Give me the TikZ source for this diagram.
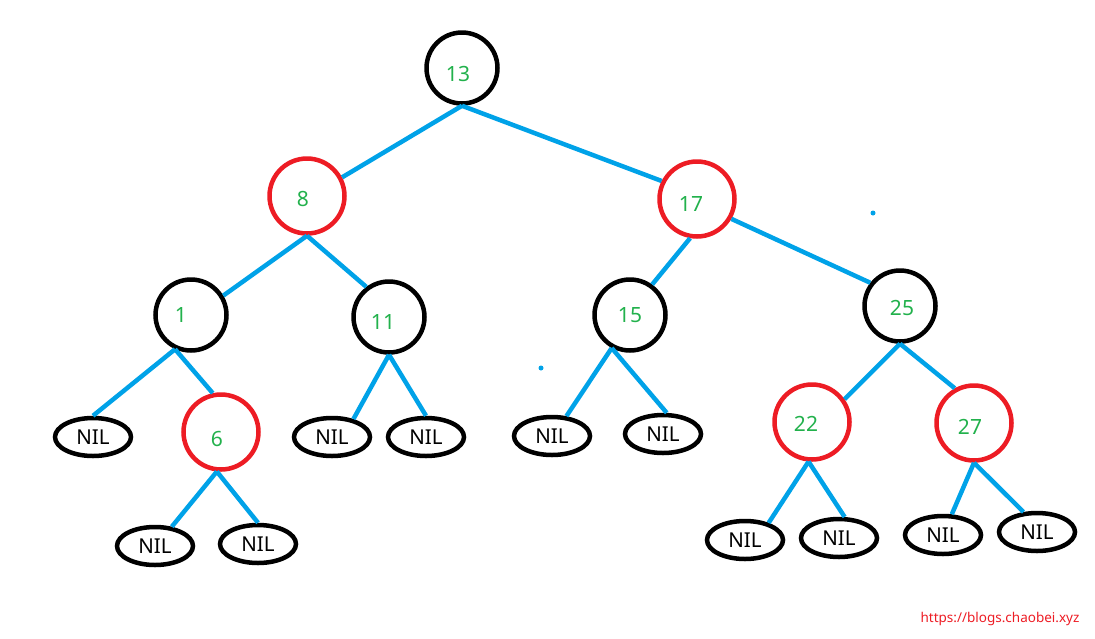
\documentclass[tikz,border=0pt]{standalone}
\usepackage{fontspec}
\setmainfont{Noto Sans}
\usetikzlibrary{shapes.geometric}
\definecolor{edgeblue}{RGB}{0,162,232}
\definecolor{nodered}{RGB}{237,28,36}
\definecolor{numgreen}{RGB}{34,177,76}
\begin{document}
\begin{tikzpicture}[x=1pt,y=-1pt,
  blk/.style={circle,draw=black,line width=4.5pt,minimum size=71pt,inner sep=0pt},
  rd/.style={circle,draw=nodered,line width=4.5pt,minimum size=75pt,inner sep=0pt},
  nil/.style={ellipse,draw=black,line width=4.5pt,minimum width=76pt,minimum height=38pt,inner sep=0pt,font=\fontsize{20.5}{20.5}\selectfont},
  lbl/.style={text=numgreen,inner sep=0pt,font=\fontsize{21}{21}\selectfont},
  link/.style={draw=edgeblue,line width=4.5pt},
  dot/.style={circle,fill=edgeblue,minimum size=5pt,inner sep=0pt}]
\useasboundingbox (0,0) rectangle (1095,638);
% tree nodes
\node[blk,label={[lbl,xshift=-4pt,yshift=-6pt]center:13}] (n13) at (462,68) {};
\node[rd,label={[lbl,xshift=-4pt,yshift=-3pt]center:8}] (n8) at (307,196) {};
\node[rd,label={[lbl,xshift=-6pt,yshift=-5pt]center:17}] (n17) at (697,199) {};
\node[blk,label={[lbl,xshift=-10pt]center:1}] (n1) at (191,315) {};
\node[blk,label={[lbl,xshift=-6pt,yshift=-5pt]center:11}] (n11) at (389,317) {};
\node[blk,label={[lbl]center:15}] (n15) at (630,315) {};
\node[blk,label={[lbl,xshift=2pt,yshift=-2pt]center:25}] (n25) at (900,306) {};
\node[rd,label={[lbl,xshift=-4pt,yshift=-7pt]center:6}] (n6) at (221,432) {};
\node[rd,label={[lbl,xshift=-6pt,yshift=-2pt]center:22}] (n22) at (812,422) {};
\node[rd,label={[lbl,xshift=-4pt,yshift=-4pt]center:27}] (n27) at (974,423) {};
% NIL leaves
\node[nil] (n1L) at (93,437) {NIL};
\node[nil] (n6L) at (155,546) {NIL};
\node[nil] (n6R) at (258,544) {NIL};
\node[nil] (n11L) at (332,437) {NIL};
\node[nil] (n11R) at (426,437) {NIL};
\node[nil] (n15L) at (552,436) {NIL};
\node[nil] (n15R) at (663,434) {NIL};
\node[nil] (n22L) at (745,540) {NIL};
\node[nil] (n22R) at (839,538) {NIL};
\node[nil] (n27L) at (943,535) {NIL};
\node[nil] (n27R) at (1037,532) {NIL};
% edges
\draw[link] (n13.south) -- (n8.28);
\draw[link] (n13.south) -- (n17.153);
\draw[link] (n8.south) -- (n1.31);
\draw[link] (n8.south) -- (n11.127);
\draw[link] (n1.245) -- (n1L.north);
\draw[link] (n1.245) -- (n6.102);
\draw[link] (n6.264) -- (n6L.49);
\draw[link] (n6.264) -- (n6R.north);
\draw[link] (n11.south) -- (n11L.40);
\draw[link] (n11.south) -- (n11R.north);
\draw[link] (n17.260) -- (n15.54);
\draw[link] (n17.330) -- (n25.142);
\draw[link] (n15.241) -- (n15L.54);
\draw[link] (n15.241) -- (n15R.80);
\draw[link] (n25.south) -- (n22.35);
\draw[link] (n25.south) -- (n27.119);
\draw[link] (n22.265) -- (n22L.36);
\draw[link] (n22.265) -- (n22R.75);
\draw[link] (n27.south) -- (n27L.67);
\draw[link] (n27.south) -- (n27R.124);
% stray dots
\node[dot] (d1) at (873,213) {};
\node[dot] (d2) at (541,368) {};
% watermark
\node[text=nodered,inner sep=0pt,font=\fontsize{13.5}{13.5}\selectfont] (url) at (1000,619) {https://blogs.chaobei.xyz};
\end{tikzpicture}
\end{document}
